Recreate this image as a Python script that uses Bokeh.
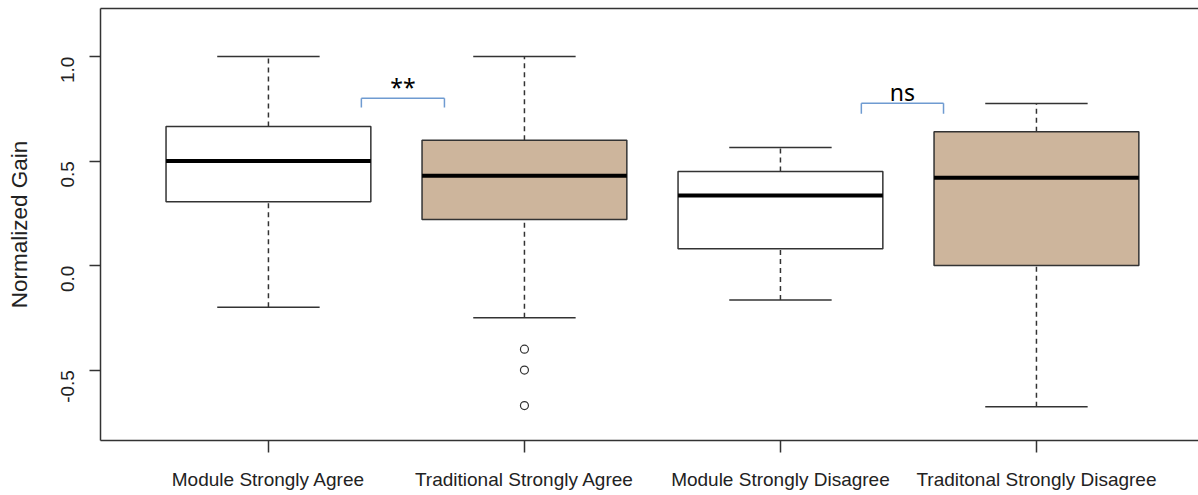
import math
from bokeh.plotting import figure
from bokeh.models import Range1d, FixedTicker, LinearAxis, Label
from bokeh.embed import file_html
from bokeh.resources import INLINE

# ---- data ----
categories = ["Module Strongly Agree", "Traditional Strongly Agree",
              "Module Strongly Disagree", "Traditonal Strongly Disagree"]
positions = [1, 2, 3, 4]
whisker_low = [-0.20, -0.25, -0.165, -0.675]
q1 = [0.305, 0.22, 0.08, 0.0]
median = [0.50, 0.43, 0.335, 0.42]
q3 = [0.665, 0.60, 0.45, 0.64]
whisker_high = [1.0, 1.0, 0.565, 0.775]
box_colors = ["white", "#CDB59C", "white", "#CDB59C"]
outlier_x = [2, 2, 2]
outlier_y = [-0.40, -0.50, -0.67]
y_ticks = [-0.5, 0.0, 0.5, 1.0]

# significance annotations
sig_labels = ["**", "ns"]
sig_x0 = [1.363, 3.316]
sig_x1 = [1.6875, 3.637]
sig_y = [0.80, 0.777]
sig_tip = [0.756, 0.727]
sig_text_y = [0.855, 0.83]

FONT = "Liberation Sans"
LINE = "#333333"

p = figure(width=1198, height=495, output_backend="svg", toolbar_location=None,
           x_range=Range1d(0.344, 4.633), y_range=Range1d(-0.837, 1.23),
           min_border_left=100, min_border_right=0, min_border_top=8,
           min_border_bottom=55, outline_line_color=None)
p.xgrid.visible = False
p.ygrid.visible = False

box_w = 0.8
staple_w = 0.4

# whiskers (dashed)
p.segment(x0=positions, y0=q3, x1=positions, y1=whisker_high,
          line_color=LINE, line_width=1.5, line_dash="5 4")
p.segment(x0=positions, y0=whisker_low, x1=positions, y1=q1,
          line_color=LINE, line_width=1.5, line_dash="5 4")
# staples
p.segment(x0=[x - staple_w / 2 for x in positions], y0=whisker_high,
          x1=[x + staple_w / 2 for x in positions], y1=whisker_high,
          line_color=LINE, line_width=1.5)
p.segment(x0=[x - staple_w / 2 for x in positions], y0=whisker_low,
          x1=[x + staple_w / 2 for x in positions], y1=whisker_low,
          line_color=LINE, line_width=1.5)
# boxes
p.vbar(x=positions, width=box_w, bottom=q1, top=q3, fill_color=box_colors,
       line_color=LINE, line_width=1.5)
# medians
p.segment(x0=[x - box_w / 2 for x in positions], y0=median,
          x1=[x + box_w / 2 for x in positions], y1=median,
          line_color="black", line_width=4)
# outliers
p.scatter(outlier_x, outlier_y, marker="circle", size=8, fill_color=None,
          line_color=LINE, line_width=1.2)

# significance brackets
BR = "#6F9BD1"
p.segment(x0=sig_x0, y0=sig_y, x1=sig_x1, y1=sig_y, line_color=BR, line_width=1.5)
p.segment(x0=sig_x0, y0=sig_y, x1=sig_x0, y1=sig_tip, line_color=BR, line_width=1.5)
p.segment(x0=sig_x1, y0=sig_y, x1=sig_x1, y1=sig_tip, line_color=BR, line_width=1.5)
for lab, a, b, ty in zip(sig_labels, sig_x0, sig_x1, sig_text_y):
    p.add_layout(Label(x=(a + b) / 2, y=ty, text=lab, text_align="center",
                       text_baseline="middle", text_font="Noto Sans",
                       text_font_size="23px", text_color="black"))

# axes
xa = p.xaxis[0]
xa.ticker = FixedTicker(ticks=positions)
xa.major_label_overrides = {x: c for x, c in zip(positions, categories)}
xa.minor_tick_line_color = None
xa.major_tick_in = 0
xa.major_tick_out = 12
xa.major_label_standoff = 16
xa.major_label_text_font = FONT
xa.major_label_text_font_size = "19px"
xa.major_label_text_color = "#222222"
xa.axis_line_color = LINE
xa.axis_line_width = 1.5
xa.major_tick_line_color = LINE
xa.major_tick_line_width = 1.5

ya = p.yaxis[0]
ya.ticker = FixedTicker(ticks=y_ticks)
ya.major_label_overrides = {-0.5: "-0.5", 0.0: "0.0", 0.5: "0.5", 1.0: "1.0"}
ya.minor_tick_line_color = None
ya.major_tick_in = 0
ya.major_tick_out = 11
ya.major_label_standoff = 22
ya.major_label_orientation = math.pi / 2
ya.major_label_text_font = FONT
ya.major_label_text_font_size = "19px"
ya.major_label_text_color = "#222222"
ya.axis_line_color = LINE
ya.axis_line_width = 1.5
ya.major_tick_line_color = LINE
ya.major_tick_line_width = 1.5
ya.axis_label = "Normalized Gain"
ya.axis_label_text_font = FONT
ya.axis_label_text_font_size = "22.5px"
ya.axis_label_text_font_style = "normal"
ya.axis_label_text_color = "#222222"
ya.axis_label_standoff = 20

top = LinearAxis(ticker=FixedTicker(ticks=[]), axis_line_color=LINE,
                 axis_line_width=1.5, major_tick_line_color=None,
                 minor_tick_line_color=None, major_label_text_font_size="0px")
p.add_layout(top, "above")

open("out.html", "w").write(file_html(p, INLINE))
